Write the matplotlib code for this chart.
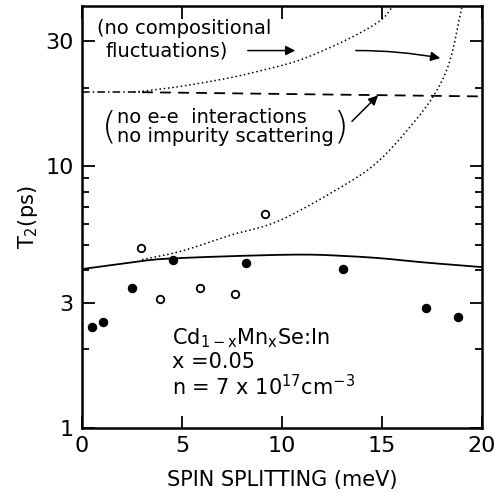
import matplotlib
matplotlib.use("Agg")
import matplotlib.pyplot as plt
from matplotlib.ticker import FixedLocator, NullFormatter, FixedFormatter
import numpy as np

plt.rcParams['font.family'] = ['DejaVu Sans']
plt.rcParams['mathtext.default'] = 'regular'

# Data
filled_x = [0.5, 1.05, 2.5, 4.55, 8.2, 13.05, 17.2, 18.8]
filled_y = [2.43, 2.54, 3.42, 4.38, 4.26, 4.05, 2.87, 2.65]
open_x = [2.95, 3.9, 5.9, 7.65, 9.15]
open_y = [4.86, 3.11, 3.42, 3.25, 6.6]

solid_x = [0, 3, 4.6, 8, 11, 13, 15, 17, 20]
solid_y = [4.05, 4.35, 4.45, 4.55, 4.6, 4.55, 4.45, 4.3, 4.12]

dash_x = [3, 20]
dash_y = [19.2, 18.5]
dashdot_x = [0, 3]
dashdot_y = [19.2, 19.2]

upper_dot_x = [2.6, 4.9, 7.4, 9.0, 10.9, 13.25, 14.9, 15.55]
upper_dot_y = [19.2, 20.2, 21.8, 23.3, 25.5, 30.5, 36.0, 41.0]

lower_dot_x = [3.0, 5.0, 7.4, 9.9, 13.25, 14.9, 16.55, 17.65, 18.4, 19.0]
lower_dot_y = [4.4, 4.75, 5.45, 6.22, 8.6, 10.6, 14.6, 19.0, 25.4, 41.0]

x_ticks = [0, 5, 10, 15, 20]
y_major = [1, 3, 10, 30]
y_major_labels = ['1', '3', '10', '30']
y_minor = [2, 4, 5, 6, 7, 8, 9, 20]

fig = plt.figure(figsize=(4.96, 4.93), dpi=100)
ax = fig.add_axes([82/496, 1 - 428/493, 400/496, 422/493])
ax.set_yscale('log')
ax.set_xlim(0, 20)
ax.set_ylim(1, 41)

def smooth(xs, ys):
    xs = np.asarray(xs, float); ys = np.log10(np.asarray(ys, float))
    pts = np.column_stack([xs, ys])
    P = np.vstack([pts[0] * 2 - pts[1], pts, pts[-1] * 2 - pts[-2]])
    out = []
    for i in range(1, len(P) - 2):
        p0, p1, p2, p3 = P[i - 1], P[i], P[i + 1], P[i + 2]
        for s in np.linspace(0, 1, 30, endpoint=False):
            out.append(0.5 * ((2 * p1) + (-p0 + p2) * s + (2 * p0 - 5 * p1 + 4 * p2 - p3) * s ** 2
                              + (-p0 + 3 * p1 - 3 * p2 + p3) * s ** 3))
    out.append(P[-2])
    out = np.array(out)
    return out[:, 0], 10 ** out[:, 1]

sx, sy = smooth(solid_x, solid_y)
ax.plot(sx, sy, color='black', lw=1.3)
ax.plot(dash_x, dash_y, color='black', lw=1.3, dashes=(6, 4))
ax.plot(dashdot_x, dashdot_y, color='black', lw=1.1, dashes=(5, 2, 1, 2))
ux, uy = smooth(upper_dot_x, upper_dot_y)
ax.plot(ux, uy, color='black', lw=1.1, ls=(0, (1, 1.8)))
lx, ly = smooth(lower_dot_x, lower_dot_y)
ax.plot(lx, ly, color='black', lw=1.1, ls=(0, (1, 1.8)))

ax.plot(filled_x, filled_y, 'o', color='black', ms=5.8, ls='none')
ax.plot(open_x, open_y, 'o', mfc='white', mec='black', mew=1.3, ms=5.4, ls='none')

# ticks
ax.xaxis.set_major_locator(FixedLocator(x_ticks))
ax.set_xticklabels([str(v) for v in x_ticks])
ax.yaxis.set_major_locator(FixedLocator(y_major))
ax.yaxis.set_major_formatter(FixedFormatter(y_major_labels))
ax.yaxis.set_minor_locator(FixedLocator(y_minor))
ax.yaxis.set_minor_formatter(NullFormatter())
ax.xaxis.set_minor_locator(FixedLocator([]))
ax.tick_params(which='both', direction='in', top=True, right=True, width=1.3,
               labelsize=16, pad=6)
ax.tick_params(which='major', length=9)
ax.tick_params(which='minor', length=5)
for s in ax.spines.values():
    s.set_linewidth(1.8)

ax.set_xlabel('SPIN SPLITTING (meV)', fontsize=15, labelpad=10)
ax.set_ylabel('T$_2$(ps)', fontsize=15, labelpad=4)

# annotations
ax.text(0.75, 33.6, '(no compositional', fontsize=14, va='center', ha='left')
ax.text(1.15, 27.7, 'fluctuations)', fontsize=14, va='center', ha='left')
ax.annotate('', xy=(10.8, 27.7), xytext=(8.15, 27.7),
            arrowprops=dict(arrowstyle='-|>', color='black', lw=1.1, mutation_scale=14))
ax.annotate('', xy=(18.05, 25.8), xytext=(13.55, 27.7),
            arrowprops=dict(arrowstyle='-|>', color='black', lw=1.1, mutation_scale=14,
                            connectionstyle='arc3,rad=-0.05'))

ax.text(1.75, 15.4, 'no e-e  interactions', fontsize=14, va='center', ha='left')
ax.text(1.75, 13.0, 'no impurity scattering', fontsize=14, va='center', ha='left')
ax.text(1.0, 14.1, '(', fontsize=27, va='center', ha='left', fontweight='light')
ax.text(12.6, 14.1, ')', fontsize=27, va='center', ha='left', fontweight='light')
ax.annotate('', xy=(14.9, 19.0), xytext=(13.4, 14.6),
            arrowprops=dict(arrowstyle='-|>', color='black', lw=1.1, mutation_scale=14))

ax.text(4.5, 2.45,
        'Cd$_{1-x}$Mn$_x$Se:In\nx =0.05\nn = 7 x 10$^{17}$cm$^{-3}$',
        fontsize=15, va='top', ha='left', linespacing=1.12)

fig.savefig('out.png', dpi=100)
